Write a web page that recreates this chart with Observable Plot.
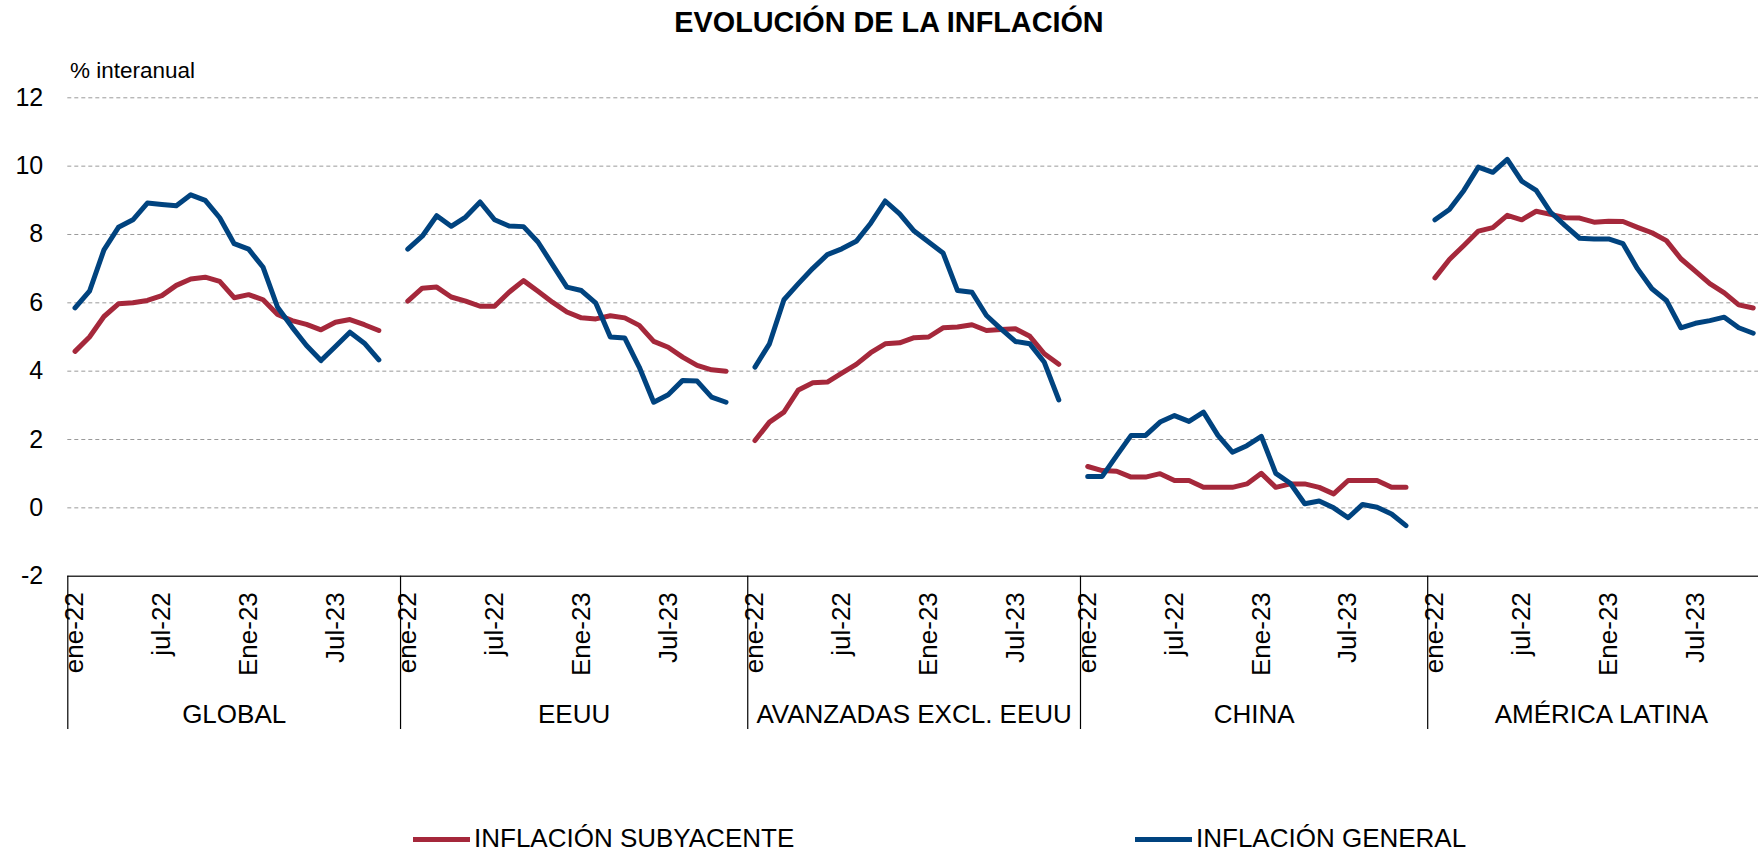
<!DOCTYPE html>
<html>
<head>
<meta charset="utf-8">
<script src="https://cdn.jsdelivr.net/npm/d3@7"></script>
<script src="https://cdn.jsdelivr.net/npm/@observablehq/plot@0.6"></script>
<style>
html, body { margin: 0; padding: 0; background: #fff; overflow: hidden; width: 1758px; height: 851px; }
body { position: relative; font-family: "Liberation Sans", Arial, Helvetica, sans-serif; color: #000; }
#title { position: absolute; left: 0; width: 1778px; top: 8.3px; text-align: center; font-weight: bold; font-size: 28.8px; line-height: 28.8px; white-space: nowrap; }
#unit { position: absolute; left: 70px; top: 60.2px; font-size: 22.5px; line-height: 22.5px; white-space: nowrap; }
#chart { position: absolute; left: 0; top: 48px; }
.sw { position: absolute; height: 5px; }
.lt { position: absolute; font-size: 26px; line-height: 26px; white-space: nowrap; }
</style>
</head>
<body>
<div id="title">EVOLUCIÓN DE LA INFLACIÓN</div>
<div id="unit">% interanual</div>
<div id="chart"></div>
<div class="sw" id="sw1" style="left:413px; width:57px; top:836.5px;"></div>
<div class="lt" id="lt1" style="left:474px; top:824.7px;"></div>
<div class="sw" id="sw2" style="left:1135px; width:57px; top:836.5px;"></div>
<div class="lt" id="lt2" style="left:1196px; top:824.7px;"></div>
<script>
// ---- Data ----
const groups = ["GLOBAL", "EEUU", "AVANZADAS EXCL. EEUU", "CHINA", "AMÉRICA LATINA"];
const seriesNames = ["INFLACIÓN SUBYACENTE", "INFLACIÓN GENERAL"];
const monthLabels = ["ene-22", "jul-22", "Ene-23", "Jul-23"];
const monthSlots = [0, 6, 12, 18];
const yTicks = [-2, 0, 2, 4, 6, 8, 10, 12];

const globalGen = [5.85, 6.34, 7.55, 8.21, 8.43, 8.92, 8.88, 8.84, 9.16, 9.0, 8.49, 7.73, 7.57, 7.04, 5.87, 5.29, 4.75, 4.31, 4.72, 5.14, 4.82, 4.33];
const globalSub = [4.58, 5.0, 5.6, 5.97, 6.0, 6.07, 6.21, 6.51, 6.7, 6.75, 6.63, 6.15, 6.24, 6.09, 5.66, 5.48, 5.37, 5.21, 5.43, 5.51, 5.36, 5.19];
const eeuuGen = [7.57, 7.95, 8.55, 8.24, 8.51, 8.95, 8.43, 8.25, 8.23, 7.78, 7.12, 6.46, 6.36, 5.99, 5.0, 4.97, 4.12, 3.09, 3.31, 3.73, 3.71, 3.24, 3.09];
const eeuuSub = [6.05, 6.43, 6.46, 6.17, 6.05, 5.9, 5.9, 6.31, 6.65, 6.34, 6.02, 5.73, 5.56, 5.53, 5.62, 5.56, 5.34, 4.87, 4.7, 4.41, 4.17, 4.04, 4.0];
const avzGen = [4.12, 4.8, 6.09, 6.56, 7.01, 7.41, 7.58, 7.8, 8.33, 8.98, 8.6, 8.1, 7.78, 7.46, 6.36, 6.31, 5.63, 5.24, 4.87, 4.8, 4.26, 3.16];
const avzSub = [1.97, 2.51, 2.8, 3.45, 3.66, 3.68, 3.94, 4.2, 4.54, 4.8, 4.83, 4.98, 5.0, 5.27, 5.29, 5.36, 5.19, 5.22, 5.24, 5.02, 4.51, 4.2];
const chinaGen = [0.92, 0.92, 1.53, 2.12, 2.12, 2.51, 2.7, 2.53, 2.8, 2.12, 1.63, 1.82, 2.09, 1.01, 0.72, 0.12, 0.2, 0.0, -0.29, 0.1, 0.02, -0.18, -0.52];
const chinaSub = [1.21, 1.09, 1.07, 0.9, 0.9, 1.0, 0.8, 0.8, 0.6, 0.6, 0.6, 0.7, 1.01, 0.6, 0.7, 0.7, 0.6, 0.41, 0.8, 0.8, 0.8, 0.6, 0.6];
const latamGen = [8.43, 8.73, 9.29, 9.97, 9.82, 10.2, 9.56, 9.29, 8.65, 8.26, 7.89, 7.87, 7.87, 7.73, 7.0, 6.41, 6.07, 5.27, 5.4, 5.48, 5.58, 5.27, 5.11];
const latamSub = [6.73, 7.27, 7.68, 8.1, 8.2, 8.56, 8.43, 8.68, 8.59, 8.49, 8.48, 8.36, 8.39, 8.38, 8.21, 8.05, 7.82, 7.29, 6.93, 6.56, 6.29, 5.94, 5.85];

const generalSeries = [globalGen, eeuuGen, avzGen, chinaGen, latamGen];
const subSeries = [globalSub, eeuuSub, avzSub, chinaSub, latamSub];

const RED = "#a5283b";
const BLUE = "#00437f";

// ---- Category layout: each group has its months plus one empty slot ----
const offsets = [];
let acc = 0;
generalSeries.forEach(s => { offsets.push(acc); acc += s.length + 1; });
const totalSlots = acc;
const groupSizes = generalSeries.map(s => s.length + 1);

const rows = list => list.flatMap((vals, g) => vals.map((v, i) => ({group: groups[g], x: offsets[g] + i + 0.5, y: v})));
const subRows = rows(subSeries);
const genRows = rows(generalSeries);

const monthTicks = new Map();
offsets.forEach(o => monthSlots.forEach((s, k) => monthTicks.set(o + s + 0.5, monthLabels[k])));
const groupTicks = new Map();
offsets.forEach((o, g) => groupTicks.set(o + groupSizes[g] / 2, groups[g]));

const slotW = 14.467;
const x0 = 67.3;

const chart = Plot.plot({
  width: 1758,
  height: 700,
  marginLeft: x0,
  marginRight: 0,
  marginTop: 49.3,
  marginBottom: 172.3,
  style: {fontFamily: "'Liberation Sans', Arial, Helvetica, sans-serif", fontSize: "25px", color: "#000", background: "transparent", overflow: "hidden"},
  x: {type: "linear", domain: [0, totalSlots], range: [x0, x0 + totalSlots * slotW]},
  y: {domain: [-2, 12]},
  marks: [
    Plot.gridY(yTicks.filter(v => v > -2), {stroke: "#9a9a9a", strokeOpacity: 1, strokeWidth: 1, strokeDasharray: "4,3"}),
    Plot.axisY(yTicks, {tickSize: 0, tickPadding: 24.6, fontSize: 25, label: null, tickFormat: d => String(d)}),
    Plot.ruleY([-2], {stroke: "#333", strokeWidth: 1.5}),
    Plot.axisX(offsets, {tickSize: 153.3, tickFormat: () => "", stroke: "#000", strokeWidth: 1.2, label: null}),
    Plot.axisX([...monthTicks.keys()], {tickSize: 0, tickPadding: 16, tickRotate: -90, fontSize: 26, tickFormat: d => monthTicks.get(d), label: null}),
    Plot.axisX([...groupTicks.keys()], {tickSize: 0, tickPadding: 128, fontSize: 26, tickFormat: d => groupTicks.get(d), label: null}),
    Plot.line(subRows, {x: "x", y: "y", z: "group", stroke: RED, strokeWidth: 5, strokeLinejoin: "round"}),
    Plot.line(genRows, {x: "x", y: "y", z: "group", stroke: BLUE, strokeWidth: 5, strokeLinejoin: "round"})
  ]
});
document.getElementById("chart").appendChild(chart);

document.getElementById("sw1").style.background = RED;
document.getElementById("sw2").style.background = BLUE;
document.getElementById("lt1").textContent = seriesNames[0];
document.getElementById("lt2").textContent = seriesNames[1];
</script>
</body>
</html>
